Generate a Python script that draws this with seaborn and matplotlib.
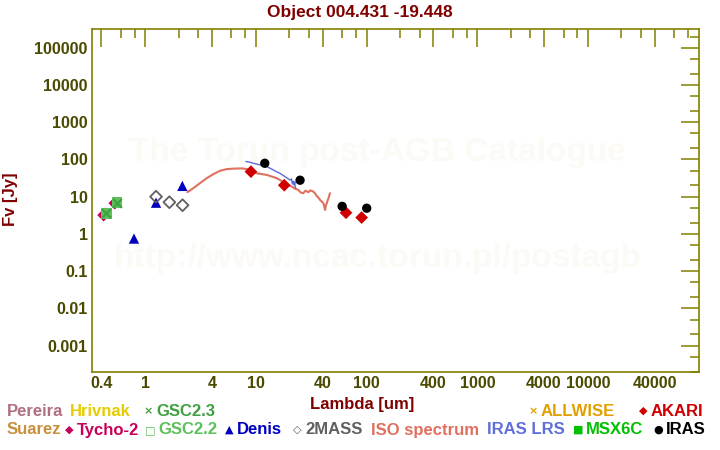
import numpy as np
import matplotlib
matplotlib.use("Agg")
import matplotlib.pyplot as plt
import matplotlib.ticker as mticker
import seaborn as sns

# photometry (wavelength in um, flux in Jy)
tycho_lam = [0.42, 0.53]
tycho_flux = [3.2, 6.7]
gsc22_lam = [0.445, 0.556]
gsc22_flux = [3.6, 6.9]
gsc23_lam = [0.445, 0.556]
gsc23_flux = [3.6, 6.9]
denis_lam = [0.79, 1.25, 2.16]
denis_flux = [0.75, 6.9, 19.5]
twomass_lam = [1.25, 1.65, 2.17]
twomass_flux = [10.0, 7.1, 5.9]
iras_lam = [12, 25, 60, 100]
iras_flux = [79, 27.7, 5.5, 4.9]
akari_lam = [9, 18, 65, 90]
akari_flux = [47, 20.3, 3.7, 2.75]

# ISO spectrum
iso_lam = [2.40, 2.71, 3.12, 3.59, 4.11, 4.73, 5.43, 6.1, 6.7, 7.4, 8.24, 9.1, 10.1,
           11.2, 12.5, 13.8, 15.4, 16.8, 18.3, 19.6, 21.0, 22.5, 24.1, 25.3, 26.7,
           28.0, 29.7, 31.0, 32.9, 34.0, 35.3, 36.5, 37.9, 39.2, 40.6, 41.5, 42.1,
           42.9, 43.6, 44.4, 45.2, 46.0, 46.6]
iso_flux = [13.2, 16.9, 23.1, 31.4, 40.2, 49.5, 55.0, 56.5, 57.0, 57.5, 55.5, 47.0, 42.6,
            40.5, 38.5, 35.0, 31.4, 27.0, 23.1, 21.0, 18.7, 16.5, 15.2, 13.0, 12.4,
            14.5, 13.2, 14.8, 13.7, 12.5, 10.5, 9.6, 8.2, 7.4, 6.7, 5.2, 4.4,
            6.0, 6.7, 8.0, 9.1, 11.0, 12.4]

# IRAS LRS spectrum
lrs_lam = [8.1, 8.7, 9.45, 10.2, 10.9, 11.7, 12.5, 13.4, 14.3, 15.3, 16.4, 17.3,
           18.3, 19.3, 20.3, 20.9, 21.3, 21.7, 22.1, 22.4, 22.6, 22.9]
lrs_flux = [88, 85, 79, 75, 71.5, 68, 64.3, 58, 52.5, 47, 42.6, 38.5,
            34.6, 31, 28, 30, 22, 26, 20.8, 25, 18, 16.9]

x_major = [0.4, 1, 4, 10, 40, 100, 400, 1000, 4000, 10000, 40000]
x_minor = [0.6, 0.8, 2, 3, 6, 8, 20, 30, 60, 80, 200, 300, 600, 800,
           2000, 3000, 6000, 8000, 20000, 30000, 60000, 80000]
y_major = [1e-3, 1e-2, 1e-1, 1, 10, 100, 1000, 1e4, 1e5]
y_minor = [2e-4, 5e-4, 2e-3, 5e-3, 2e-2, 5e-2, 0.2, 0.5, 2, 5, 20, 50,
           200, 500, 2000, 5000, 2e4, 5e4, 2e5]

sns.set_theme(style="white")
plt.rcParams["font.family"] = ["Liberation Sans", "DejaVu Sans"]
plt.rcParams["font.weight"] = "bold"

olive = "#808000"
tick_txt = "#4a4a00"
dred = "#800000"

fig = plt.figure(figsize=(7.2, 4.5), dpi=100)
ax = fig.add_axes([0.1278, 0.1733, 0.9708 - 0.1278, 0.9356 - 0.1733])

# watermark
ax.text(0.47, 0.64, "The Torun post-AGB Catalogue", transform=ax.transAxes,
        ha="center", va="center", fontsize=24, fontweight="bold", color="#fbfaf5", zorder=0)
ax.text(0.47, 0.33, "http://www.ncac.torun.pl/postagb", transform=ax.transAxes,
        ha="center", va="center", fontsize=24, fontweight="bold", color="#fbfaf5", zorder=0)

# spectra
sns.lineplot(x=iso_lam, y=iso_flux, sort=False, estimator=None, color="#e07060",
             lw=1.5, ax=ax, zorder=2)
sns.lineplot(x=lrs_lam, y=lrs_flux, sort=False, estimator=None, color="#5a6ad8",
             lw=1.0, ax=ax, zorder=2)

# photometry
sns.scatterplot(x=tycho_lam, y=tycho_flux, marker="D", s=42, color="#c8005a",
                edgecolor="none", ax=ax, zorder=3)
sns.scatterplot(x=gsc22_lam, y=gsc22_flux, marker="s", s=60, color="#5cc05c",
                edgecolor="none", ax=ax, zorder=4)
sns.scatterplot(x=gsc23_lam, y=gsc23_flux, marker="x", s=40, color="#40a040",
                linewidth=1.5, ax=ax, zorder=5)
sns.scatterplot(x=denis_lam, y=denis_flux, marker="^", s=55, color="#0000c0",
                edgecolor="none", ax=ax, zorder=4)
sns.scatterplot(x=twomass_lam, y=twomass_flux, marker="D", s=36, facecolor="none",
                edgecolor="#606060", linewidth=1.3, ax=ax, zorder=5)
sns.scatterplot(x=akari_lam, y=akari_flux, marker="D", s=42, color="#d00000",
                edgecolor="none", ax=ax, zorder=5)
sns.scatterplot(x=iras_lam, y=iras_flux, marker="o", s=45, color="black",
                edgecolor="none", ax=ax, zorder=6)

ax.set_xscale("log")
ax.set_yscale("log")
ax.set_xlim(0.33, 1.004e5)
ax.set_ylim(1.95e-4, 3.2e5)

ax.xaxis.set_major_locator(mticker.FixedLocator(x_major))
ax.xaxis.set_minor_locator(mticker.FixedLocator(x_minor))
ax.yaxis.set_major_locator(mticker.FixedLocator(y_major))
ax.yaxis.set_minor_locator(mticker.FixedLocator(y_minor))
fmt = mticker.FuncFormatter(lambda v, p: "%g" % v)
ax.xaxis.set_major_formatter(fmt)
ax.yaxis.set_major_formatter(fmt)
ax.xaxis.set_minor_formatter(mticker.NullFormatter())
ax.yaxis.set_minor_formatter(mticker.NullFormatter())

ax.tick_params(which="both", direction="in", top=True, right=True, color=olive,
               labelcolor=tick_txt, labelsize=11.5, pad=3)
ax.tick_params(which="major", length=13, width=1.1)
ax.tick_params(which="minor", length=6.5, width=1.1)
for lab in ax.get_xticklabels() + ax.get_yticklabels():
    lab.set_fontweight("bold")
for sp in ax.spines.values():
    sp.set_color(olive)
    sp.set_linewidth(1.2)

fig.text(0.5, 1 - 12 / 450, "Object 004.431 -19.448", ha="center", va="center",
         fontsize=12.5, fontweight="bold", color=dred)
fig.text(362 / 720, 1 - 405 / 450, "Lambda [um]", ha="center", va="center",
         fontsize=12, fontweight="bold", color=dred)
fig.text(11 / 720, 1 - 199 / 450, "Fv [Jy]", ha="center", va="center", rotation=90,
         fontsize=12, fontweight="bold", color=dred)

# legend as coloured text
legend_items = [
    ("", "Pereira", "#b07080", 7, 411),
    ("", "Hrivnak", "#e6cc00", 70, 411),
    ("\u00d7", "GSC2.3", "#40a040", 148, 411),
    ("\u00d7", "ALLWISE", "#e0a000", 533, 411),
    ("\u25c6", "AKARI", "#d00000", 643, 411),
    ("", "Suarez", "#c8903c", 7, 430),
    ("\u25c6", "Tycho-2", "#c8005a", 69, 430),
    ("\u25a1", "GSC2.2", "#5cc05c", 150, 430),
    ("\u25b2", "Denis", "#0000c0", 229, 430),
    ("\u25c7", "2MASS", "#606060", 297, 430),
    ("", "ISO spectrum", "#e07060", 371, 430),
    ("", "IRAS LRS", "#6070d8", 487, 430),
    ("\u25a0", "MSX6C", "#00c000", 578, 430),
    ("\u25cf", "IRAS", "black", 658, 430),
]
for mk, label, col, xp, yp in legend_items:
    if mk:
        fig.text(xp / 720, 1 - yp / 450, mk, ha="center", va="center", fontsize=8,
                 color=col, family=["DejaVu Sans"])
        fig.text((xp + 8) / 720, 1 - yp / 450, label, ha="left", va="center",
                 fontsize=12, fontweight="bold", color=col)
    else:
        fig.text(xp / 720, 1 - yp / 450, label, ha="left", va="center",
                 fontsize=12, fontweight="bold", color=col)

fig.savefig("out.png", dpi=100)
